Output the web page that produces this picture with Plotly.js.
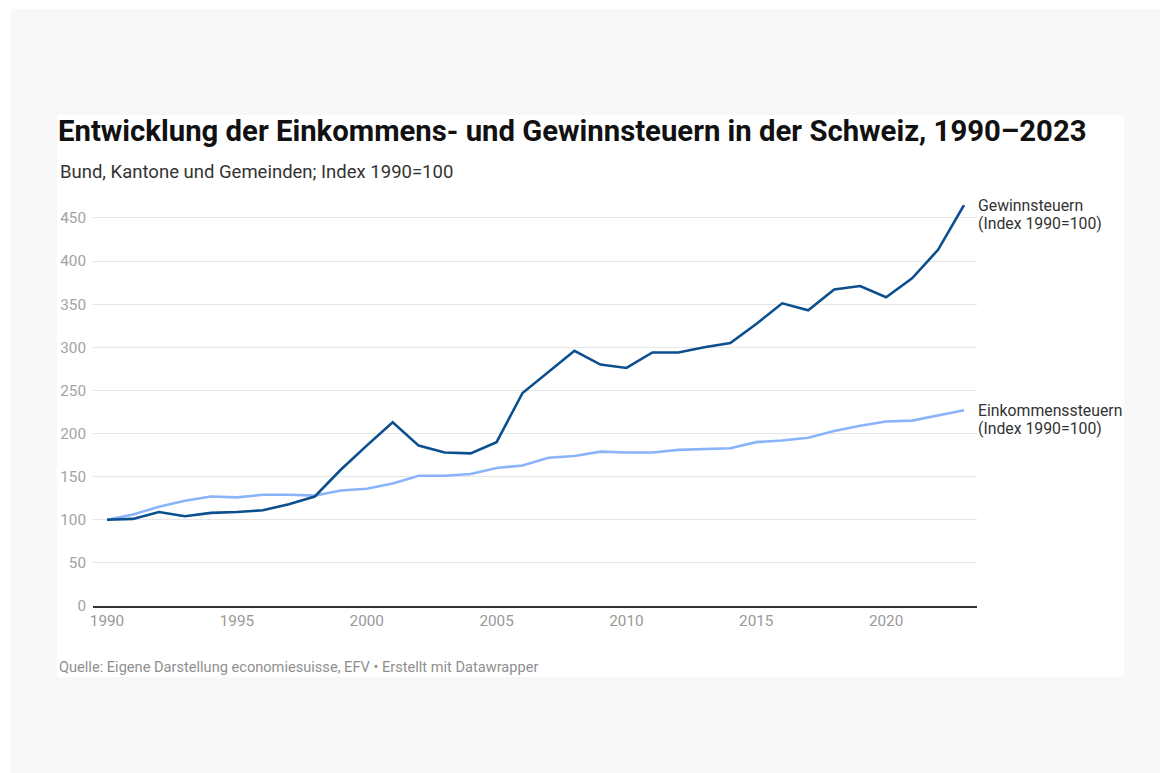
<!DOCTYPE html>
<html>
<head>
<meta charset="utf-8">
<script src="https://cdn.plot.ly/plotly-3.0.1.min.js"></script>
<style>
  html, body { margin: 0; padding: 0; background: #ffffff; }
  #outer { position: absolute; left: 11px; top: 9px; width: 1149px; height: 764px; background: #f8f8f8; }
  #card { position: absolute; left: 57px; top: 115px; width: 1067px; height: 562px; background: #ffffff; }
  #chart { position: absolute; left: 0; top: 0; width: 1170px; height: 773px; }
</style>
</head>
<body>
<div id="outer"></div>
<div id="card"></div>
<div id="chart"></div>
<script>
const years = [1990,1991,1992,1993,1994,1995,1996,1997,1998,1999,2000,2001,2002,2003,2004,2005,2006,2007,2008,2009,2010,2011,2012,2013,2014,2015,2016,2017,2018,2019,2020,2021,2022,2023];
const gewinnsteuern = [100,101,109,104,108,109,111,118,127,158,186,213,186,178,177,190,247,271,296,280,276,294,294,300,305,327,351,343,367,371,358,380,413,465];
const einkommenssteuern = [100,106,115,122,127,126,129,129,128,134,136,142,151,151,153,160,163,172,174,179,178,178,181,182,183,190,192,195,203,209,214,215,221,227];
const seriesNames = ["Gewinnsteuern", "Einkommenssteuern"];
const seriesNote = "(Index 1990=100)";
const yTicks = [0,50,100,150,200,250,300,350,400,450];
const xTicks = [1990,1995,2000,2005,2010,2015,2020];

const titleText = "Entwicklung der Einkommens- und Gewinnsteuern in der Schweiz, 1990–2023";
const subtitleText = "Bund, Kantone und Gemeinden; Index 1990=100";
const footerText = "Quelle: Eigene Darstellung economiesuisse, EFV • Erstellt mit Datawrapper";

const darkBlue = "#0b4f8e";
const lightBlue = "#8ab4fa";
const FONT = "Roboto, 'Open Sans', sans-serif";

const traces = [
  { x: years, y: einkommenssteuern, type: "scatter", mode: "lines",
    line: { color: lightBlue, width: 2.6 }, hoverinfo: "skip" },
  { x: years, y: gewinnsteuern, type: "scatter", mode: "lines",
    line: { color: darkBlue, width: 2.6 }, hoverinfo: "skip" }
];

const L = 93, R = 977, W = 1170, H = 773;
const px2paperX = (px) => (px - L) / (R - L);
const TOP = 204.6, BOT = 606;
const px2paperY = (py) => (BOT - py) / (BOT - TOP);

const lastG = gewinnsteuern[gewinnsteuern.length - 1];
const lastE = einkommenssteuern[einkommenssteuern.length - 1];

function seriesLabel(name, yVal) {
  const f = { family: FONT, size: 15.8, color: "#333333" };
  return [
    { xref: "paper", yref: "y", x: 1, y: yVal, xanchor: "left", yanchor: "middle",
      yshift: 0, xshift: -1, align: "left", showarrow: false, text: name, font: f },
    { xref: "paper", yref: "y", x: 1, y: yVal, xanchor: "left", yanchor: "middle",
      yshift: -18.6, xshift: -1, align: "left", showarrow: false, text: seriesNote, font: f }
  ];
}

const layout = {
  width: W, height: H,
  paper_bgcolor: "rgba(0,0,0,0)",
  plot_bgcolor: "rgba(0,0,0,0)",
  showlegend: false,
  margin: { l: L, r: W - R, t: TOP, b: H - BOT, pad: 0 },
  font: { family: FONT },
  title: {
    text: "<b>" + titleText + "</b>",
    font: { family: FONT, size: 29.3, color: "#111111" },
    xref: "container", yref: "container",
    x: 58 / W, xanchor: "left",
    y: 1 - 131 / H, yanchor: "middle"
  },
  xaxis: {
    range: [1989.46, 2023.5],
    tickvals: xTicks,
    ticktext: xTicks.map(String),
    showgrid: false,
    zeroline: false,
    showline: true, linecolor: "#333333", linewidth: 1.6,
    ticks: "",
    tickfont: { family: FONT, size: 15.3, color: "#999999" },
    fixedrange: true
  },
  yaxis: {
    range: [0, 465],
    tickvals: yTicks,
    ticktext: yTicks.map(String),
    showgrid: true, gridcolor: "#e6e6e6", gridwidth: 1,
    zeroline: false,
    showline: false,
    ticks: "",
    ticklabelstandoff: 6,
    tickfont: { family: FONT, size: 15.3, color: "#a3a3a3" },
    fixedrange: true
  },
  annotations: [
    { xref: "paper", yref: "paper", x: px2paperX(58), y: px2paperY(172),
      xanchor: "left", yanchor: "middle", showarrow: false,
      text: subtitleText, font: { family: FONT, size: 18.5, color: "#333333" } },
    { xref: "paper", yref: "paper", x: px2paperX(57), y: px2paperY(667),
      xanchor: "left", yanchor: "middle", showarrow: false,
      text: footerText, font: { family: FONT, size: 14.6, color: "#8f8f8f" } }
  ].concat(seriesLabel(seriesNames[0], lastG), seriesLabel(seriesNames[1], lastE))
};

Plotly.newPlot("chart", traces, layout, { displayModeBar: false, staticPlot: true });
</script>
</body>
</html>
